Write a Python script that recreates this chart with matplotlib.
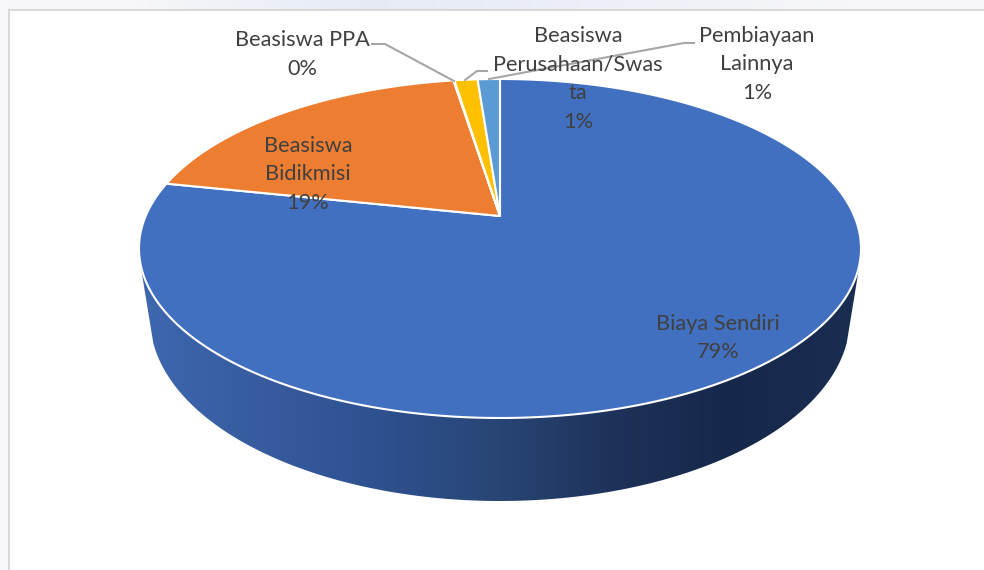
import numpy as np
import matplotlib
matplotlib.use('Agg')
import matplotlib.pyplot as plt
from matplotlib.patches import Polygon
from matplotlib.colors import LinearSegmentedColormap

names = ['Biaya Sendiri', 'Beasiswa\nBidikmisi', 'Beasiswa PPA', 'Beasiswa\nPerusahaan/Swas\nta', 'Pembiayaan\nLainnya']
values = [78.3, 19.2, 0.05, 1.25, 1.2]
percent_labels = ['79%', '19%', '0%', '1%', '1%']
colors = ['#4270C0', '#ED7D31', '#A5A5A5', '#FFC000', '#5B9BD5']

plt.rcParams['font.family'] = ['Lato', 'DejaVu Sans']

fig = plt.figure(figsize=(9.84, 5.7), dpi=100)
ax = fig.add_axes([0, 0, 1, 1])

# top ellipse of the pie, in pixels
cx, cy = 500, 248.5
a, b = 361, 169.5
p = (cy - 216) / b  # perspective, moves the apex up from the ellipse centre


def project(t):
    # t = clockwise angle from the top of the round pie
    u, v = np.sin(t), np.cos(t)
    k = 1 + p * v
    x = cx + a * np.sqrt(1 - p * p) * u / k
    y = cy - b * (v + p) / k
    return x, y


# page behind the chart
band = np.array([[0.97, 0.97, 0.98], [0.90, 0.92, 0.96], [0.93, 0.94, 0.97], [0.97, 0.97, 0.98]])
ax.imshow(band[None, :, :], extent=[0, 984, 10, 0], aspect='auto', interpolation='bilinear', zorder=0)
ax.fill_between([0, 9], 0, 570, color='#F8F8FA', lw=0, zorder=0)
ax.plot([9, 9, 984], [570, 10, 10], color='#D9D9D9', lw=1.5, zorder=1)

# side of the pie
bx, by, ba, bb = 500, 318, 350, 183
s = np.linspace(np.arcsin((343 - by) / bb), np.pi - np.arcsin((343 - by) / bb), 200)
side_x = bx - ba * np.cos(s)
side_y = by + bb * np.sin(s)
side_pts = [(140, 262)] + list(zip(side_x, side_y)) + [(860, 262), (500, 250)]
stops = [(0, '#3E67AE'), (0.326, '#2F5190'), (0.5, '#284574'), (0.674, '#1D3158'), (0.82, '#16284A'), (1, '#1A2E52')]
cmap = LinearSegmentedColormap.from_list('side', stops)
grad = np.linspace(0, 1, 256)[None, :]
img = ax.imshow(grad, extent=[140, 860, 510, 250], aspect='auto', cmap=cmap, zorder=2)
clip = Polygon(side_pts, closed=True, transform=ax.transData, fc='none', ec='none')
ax.add_patch(clip)
img.set_clip_path(clip)

# top slices
total = sum(values)
start = 0
apex = (cx, cy - b * p)
for val, col in zip(values, colors):
    end = start + val / total * 2 * np.pi
    t = np.linspace(start, end, max(int(val * 8), 4))
    x, y = project(t)
    pts = [apex] + list(zip(x, y))
    ax.add_patch(Polygon(pts, closed=True, fc=col, ec='white', lw=1.5, joinstyle='round', zorder=3))
    start = end

# leader lines
leader = '#A6A6A6'
ax.plot([372, 385, 454], [44, 44, 81], color=leader, lw=1.5, zorder=4)
ax.plot([465, 477, 487], [80, 71, 71], color=leader, lw=1.5, zorder=4)
ax.plot([489, 684, 694], [79, 43, 43], color=leader, lw=1.5, zorder=4)

# labels
label_x = [718, 308, 302, 578, 757]
label_y = [338, 174.5, 54.5, 79, 64.5]
for name, pct, x, y in zip(names, percent_labels, label_x, label_y):
    ax.text(x, y, name + '\n' + pct, ha='center', va='center', ma='center',
            fontsize=15.7, color='#404040', linespacing=1.55, zorder=5)

ax.set_xlim(0, 984)
ax.set_ylim(570, 0)
ax.axis('off')
fig.savefig('out.png', dpi=100, facecolor='white')
